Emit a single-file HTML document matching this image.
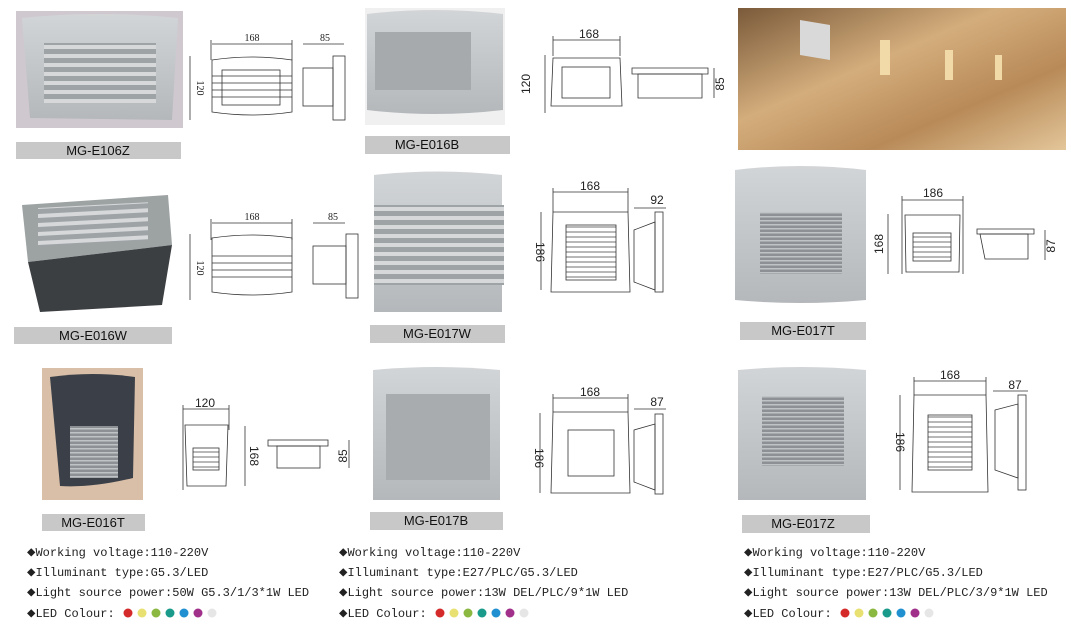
<!DOCTYPE html>
<html><head><meta charset="utf-8"><style>
html,body{margin:0;padding:0;background:#fff;width:1071px;height:628px;overflow:hidden}
svg{display:block}
.lbl{font-family:"Liberation Sans",sans-serif;font-size:13px;fill:#111}
.dim{font-family:"Liberation Serif",serif;font-size:10px;fill:#222}
.dim2{font-family:"Liberation Sans",sans-serif;font-size:12px;fill:#222}
.sp{font-family:"Liberation Mono",monospace;font-size:12px;fill:#222}
.l{stroke:#333;stroke-width:0.8;fill:none}
</style></head><body>
<svg width="1071" height="628" viewBox="0 0 1071 628" xmlns="http://www.w3.org/2000/svg">
<defs>
<linearGradient id="g" x1="0" y1="0" x2="0" y2="1"><stop offset="0" stop-color="#d2d5d7"/><stop offset="1" stop-color="#b4b8bb"/></linearGradient>
<linearGradient id="wall" x1="0" y1="0" x2="1" y2="1"><stop offset="0" stop-color="#7a5a3a"/><stop offset="0.4" stop-color="#d4ad7c"/><stop offset="0.7" stop-color="#b88a58"/><stop offset="1" stop-color="#e3c69a"/></linearGradient>
<pattern id="lou" width="10" height="9" patternUnits="userSpaceOnUse"><rect width="10" height="9" fill="#9ea3a6"/><rect width="10" height="4" fill="#d6d8da"/></pattern>
<pattern id="flou" width="10" height="4" patternUnits="userSpaceOnUse"><rect width="10" height="4" fill="#8d9195"/><rect width="10" height="1.5" fill="#c0c3c5"/></pattern>
<pattern id="dl" width="10" height="5" patternUnits="userSpaceOnUse"><line x1="0" y1="2" x2="10" y2="2" stroke="#333" stroke-width="0.7"/></pattern>
</defs>

<!-- ROW 1 -->
<rect x="16" y="11" width="167" height="117" fill="#cfc9cf"/>
<path d="M22 18 Q100 10 178 18 L172 120 L30 118 Z" fill="url(#g)"/>
<rect x="44" y="43" width="112" height="60" fill="url(#lou)"/>
<rect x="16" y="142" width="165" height="17" fill="#c8c8c8"/>
<text class="lbl" x="98" y="155" text-anchor="middle">MG-E106Z</text>

<g class="l">
<line x1="212" y1="44" x2="292" y2="44"/><line x1="211" y1="40" x2="211" y2="60"/><line x1="292" y1="40" x2="292" y2="60"/>
<line x1="190" y1="56" x2="190" y2="120"/>
<path d="M212 60 Q252 54 292 60 L292 112 Q252 118 212 112 Z"/>
<rect x="222" y="70" width="58" height="35"/>
<line x1="212" y1="76" x2="292" y2="76"/><line x1="212" y1="83" x2="292" y2="83"/><line x1="212" y1="90" x2="292" y2="90"/><line x1="212" y1="97" x2="292" y2="97"/>
<line x1="303" y1="44" x2="344" y2="44"/>
<rect x="303" y="68" width="30" height="38"/><rect x="333" y="56" width="12" height="64"/>
</g>
<text class="dim" x="252" y="41" text-anchor="middle">168</text>
<text class="dim" x="325" y="41" text-anchor="middle">85</text>
<text class="dim" transform="translate(197,88) rotate(90)" text-anchor="middle">120</text>

<rect x="365" y="8" width="140" height="117" fill="#f0f0f0"/>
<path d="M367 14 Q435 6 503 14 L503 110 Q435 118 367 110 Z" fill="url(#g)"/>
<rect x="375" y="32" width="96" height="58" fill="#a6aaad"/>
<rect x="365" y="136" width="145" height="18" fill="#c8c8c8"/>
<text class="lbl" x="427" y="149" text-anchor="middle">MG-E016B</text>

<g class="l">
<line x1="553" y1="40" x2="620" y2="40"/><line x1="553" y1="36" x2="553" y2="56"/><line x1="620" y1="36" x2="620" y2="56"/>
<line x1="545" y1="55" x2="545" y2="113"/>
<path d="M553 58 L620 58 L622 106 L551 106 Z"/>
<rect x="562" y="67" width="48" height="31"/>
<path d="M632 68 L708 68 L708 74 L632 74 Z"/><path d="M638 74 L702 74 L702 98 L638 98 Z"/>
<line x1="714" y1="68" x2="714" y2="98"/>
</g>
<text class="dim2" x="589" y="38" text-anchor="middle">168</text>
<text class="dim2" transform="translate(530,84) rotate(-90)" text-anchor="middle">120</text>
<text class="dim2" transform="translate(724,84) rotate(-90)" text-anchor="middle">85</text>

<rect x="738" y="8" width="328" height="142" fill="url(#wall)"/>
<path d="M800 20 L830 25 L830 60 L800 55 Z" fill="#d9d9d9"/>
<rect x="880" y="40" width="10" height="35" fill="#f2d9a8"/><rect x="945" y="50" width="8" height="30" fill="#f2d9a8"/><rect x="995" y="55" width="7" height="25" fill="#f2d9a8"/>

<!-- ROW 2 -->
<rect x="12" y="185" width="168" height="130" fill="#fff"/>
<path d="M22 205 L168 195 L172 245 L28 262 Z" fill="#9da2a2"/>
<path d="M28 262 L172 245 L162 305 L40 312 Z" fill="#3c3f42"/>
<rect x="38" y="210" width="110" height="38" fill="url(#lou)" transform="skewY(-3)"/>
<rect x="14" y="327" width="158" height="17" fill="#c8c8c8"/>
<text class="lbl" x="93" y="340" text-anchor="middle">MG-E016W</text>

<g class="l">
<line x1="212" y1="223" x2="292" y2="223"/><line x1="211" y1="219" x2="211" y2="240"/><line x1="292" y1="219" x2="292" y2="240"/>
<line x1="190" y1="234" x2="190" y2="300"/>
<path d="M212 238 Q252 232 292 238 L292 292 Q252 298 212 292 Z"/>
<line x1="212" y1="256" x2="292" y2="256"/><line x1="212" y1="263" x2="292" y2="263"/><line x1="212" y1="270" x2="292" y2="270"/><line x1="212" y1="277" x2="292" y2="277"/>
<line x1="313" y1="223" x2="345" y2="223"/>
<rect x="313" y="246" width="33" height="38"/><rect x="346" y="234" width="12" height="64"/>
</g>
<text class="dim" x="252" y="220" text-anchor="middle">168</text>
<text class="dim" x="333" y="220" text-anchor="middle">85</text>
<text class="dim" transform="translate(197,268) rotate(90)" text-anchor="middle">120</text>

<path d="M374 175 Q438 168 502 175 L502 312 L374 312 Z" fill="url(#g)"/>
<rect x="374" y="205" width="130" height="80" fill="url(#lou)"/>
<rect x="370" y="325" width="135" height="18" fill="#c8c8c8"/>
<text class="lbl" x="437" y="338" text-anchor="middle">MG-E017W</text>

<g class="l">
<line x1="553" y1="192" x2="628" y2="192"/><line x1="553" y1="188" x2="553" y2="212"/><line x1="628" y1="188" x2="628" y2="212"/>
<line x1="634" y1="208" x2="666" y2="208"/>
<line x1="541" y1="212" x2="541" y2="290"/>
<path d="M553 212 L628 212 L630 292 L551 292 Z"/>
<rect x="566" y="225" width="50" height="55" fill="url(#dl)"/>
<path d="M634 230 L655 222 L655 290 L634 282 Z"/><rect x="655" y="212" width="8" height="80"/>
</g>
<text class="dim2" x="590" y="190" text-anchor="middle">168</text>
<text class="dim2" x="657" y="204" text-anchor="middle">92</text>
<text class="dim2" transform="translate(536,252) rotate(90)" text-anchor="middle">186</text>

<path d="M735 170 Q800 162 866 170 L866 300 Q800 306 735 300 Z" fill="url(#g)"/>
<rect x="760" y="212" width="82" height="62" fill="url(#flou)"/>
<rect x="740" y="322" width="126" height="18" fill="#c8c8c8"/>
<text class="lbl" x="803" y="335" text-anchor="middle">MG-E017T</text>

<g class="l">
<line x1="902" y1="200" x2="963" y2="200"/><line x1="902" y1="196" x2="902" y2="274"/><line x1="963" y1="196" x2="963" y2="274"/>
<line x1="888" y1="214" x2="888" y2="274"/>
<path d="M905 215 L960 215 L959 272 L906 272 Z"/>
<rect x="913" y="233" width="38" height="28" fill="url(#dl)"/>
<path d="M977 229 L1034 229 L1034 234 L977 234 Z"/><path d="M980 234 L1028 234 L1028 259 L985 259 Z"/>
<line x1="1045" y1="230" x2="1045" y2="260"/>
</g>
<text class="dim2" x="933" y="197" text-anchor="middle">186</text>
<text class="dim2" transform="translate(883,244) rotate(-90)" text-anchor="middle">168</text>
<text class="dim2" transform="translate(1055,246) rotate(-90)" text-anchor="middle">87</text>

<!-- ROW 3 -->
<rect x="42" y="368" width="101" height="132" fill="#d9bfa8"/>
<path d="M50 377 Q92 371 135 377 L133 478 Q92 488 60 486 Z" fill="#3b4048"/>
<rect x="70" y="426" width="48" height="52" fill="url(#flou)"/>
<rect x="42" y="514" width="103" height="17" fill="#c8c8c8"/>
<text class="lbl" x="93" y="527" text-anchor="middle">MG-E016T</text>

<g class="l">
<line x1="183" y1="409" x2="229" y2="409"/><line x1="183" y1="405" x2="183" y2="490"/><line x1="229" y1="405" x2="229" y2="430"/>
<line x1="245" y1="426" x2="245" y2="486"/>
<path d="M185 425 L228 425 L226 486 L187 486 Z"/>
<rect x="193" y="448" width="26" height="22" fill="url(#dl)"/>
<rect x="268" y="440" width="60" height="6"/><rect x="277" y="446" width="43" height="22"/>
<line x1="349" y1="440" x2="349" y2="468"/>
</g>
<text class="dim2" x="205" y="407" text-anchor="middle">120</text>
<text class="dim2" transform="translate(250,456) rotate(90)" text-anchor="middle">168</text>
<text class="dim2" transform="translate(347,456) rotate(-90)" text-anchor="middle">85</text>

<path d="M373 370 Q437 364 500 370 L500 500 L373 500 Z" fill="url(#g)"/>
<rect x="386" y="394" width="104" height="86" fill="#a8acaf"/>
<rect x="370" y="512" width="133" height="18" fill="#c8c8c8"/>
<text class="lbl" x="436" y="525" text-anchor="middle">MG-E017B</text>

<g class="l">
<line x1="553" y1="398" x2="628" y2="398"/><line x1="553" y1="394" x2="553" y2="412"/><line x1="628" y1="394" x2="628" y2="412"/>
<line x1="634" y1="409" x2="666" y2="409"/>
<line x1="540" y1="413" x2="540" y2="493"/>
<path d="M553 412 L628 412 L630 493 L551 493 Z"/>
<rect x="568" y="430" width="46" height="46"/>
<path d="M634 430 L655 424 L655 490 L634 482 Z"/><rect x="655" y="414" width="8" height="80"/>
</g>
<text class="dim2" x="590" y="396" text-anchor="middle">168</text>
<text class="dim2" x="657" y="406" text-anchor="middle">87</text>
<text class="dim2" transform="translate(535,458) rotate(90)" text-anchor="middle">186</text>

<path d="M738 370 Q802 364 866 370 L866 500 L738 500 Z" fill="url(#g)"/>
<rect x="762" y="396" width="82" height="70" fill="url(#flou)"/>
<rect x="742" y="515" width="128" height="18" fill="#c8c8c8"/>
<text class="lbl" x="803" y="528" text-anchor="middle">MG-E017Z</text>

<g class="l">
<line x1="914" y1="381" x2="986" y2="381"/><line x1="914" y1="377" x2="914" y2="395"/><line x1="986" y1="377" x2="986" y2="395"/>
<line x1="993" y1="391" x2="1028" y2="391"/>
<line x1="900" y1="395" x2="900" y2="490"/>
<path d="M914 395 L986 395 L988 492 L912 492 Z"/>
<rect x="928" y="415" width="44" height="55" fill="url(#dl)"/>
<path d="M995 410 L1018 404 L1018 478 L995 470 Z"/><rect x="1018" y="395" width="8" height="95"/>
</g>
<text class="dim2" x="950" y="379" text-anchor="middle">168</text>
<text class="dim2" x="1015" y="389" text-anchor="middle">87</text>
<text class="dim2" transform="translate(896,442) rotate(90)" text-anchor="middle">186</text>

<!-- SPECS -->
<text class="sp" x="27" y="556"><tspan font-size="14">◆</tspan>Working voltage:110-220V</text>
<text class="sp" x="27" y="576"><tspan font-size="14">◆</tspan>Illuminant type:G5.3/LED</text>
<text class="sp" x="27" y="596"><tspan font-size="14">◆</tspan>Light source power:50W G5.3/1/3*1W LED</text>
<text class="sp" x="27" y="617"><tspan font-size="14">◆</tspan>LED Colour:</text>
<text class="sp" x="339" y="556"><tspan font-size="14">◆</tspan>Working voltage:110-220V</text>
<text class="sp" x="339" y="576"><tspan font-size="14">◆</tspan>Illuminant type:E27/PLC/G5.3/LED</text>
<text class="sp" x="339" y="596"><tspan font-size="14">◆</tspan>Light source power:13W DEL/PLC/9*1W LED</text>
<text class="sp" x="339" y="617"><tspan font-size="14">◆</tspan>LED Colour:</text>
<text class="sp" x="744" y="556"><tspan font-size="14">◆</tspan>Working voltage:110-220V</text>
<text class="sp" x="744" y="576"><tspan font-size="14">◆</tspan>Illuminant type:E27/PLC/G5.3/LED</text>
<text class="sp" x="744" y="596"><tspan font-size="14">◆</tspan>Light source power:13W DEL/PLC/3/9*1W LED</text>
<text class="sp" x="744" y="617"><tspan font-size="14">◆</tspan>LED Colour:</text>

<g id="dots">
<circle cx="128" cy="613" r="4.5" fill="#d42a2a"/><circle cx="142" cy="613" r="4.5" fill="#e8e070"/><circle cx="156" cy="613" r="4.5" fill="#8bb840"/><circle cx="170" cy="613" r="4.5" fill="#1a9a8a"/><circle cx="184" cy="613" r="4.5" fill="#2090d0"/><circle cx="198" cy="613" r="4.5" fill="#a0308a"/><circle cx="212" cy="613" r="4.5" fill="#e6e6e6"/>
</g>
<use href="#dots" x="312"/>
<use href="#dots" x="717"/>
</svg>
</body></html>
